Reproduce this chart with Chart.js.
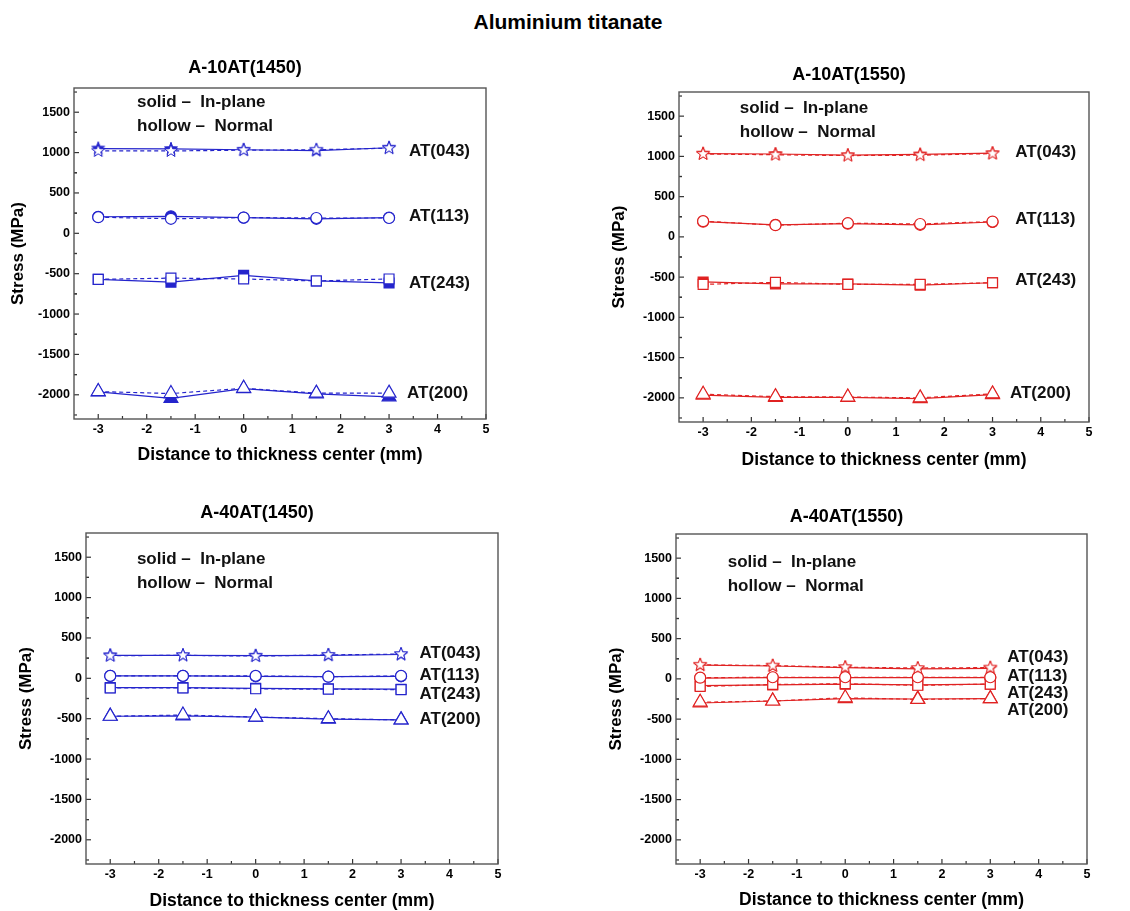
<!DOCTYPE html>
<html>
<head>
<meta charset="utf-8">
<title>Aluminium titanate</title>
<script src="https://cdn.jsdelivr.net/npm/chart.js@4.4.0/dist/chart.umd.min.js"></script>
<style>
  html, body { margin: 0; padding: 0; background: #fff; overflow: hidden; }
  #page { position: relative; width: 1130px; height: 911px; }
  #mainTitle { position: absolute; left: 0; top: 10px; width: 1136px; text-align: center;
               font: bold 21px "Liberation Sans", Arial, sans-serif; line-height: 24px; color: #000; }
  canvas { position: absolute; }
</style>
</head>
<body>
<div id="page">
  <div id="mainTitle">Aluminium titanate</div>
</div>
<script>
// positions through the thickness (mm) and axis ticks
const xPos = [-3, -1.5, 0, 1.5, 3];
const xTicks = [-3, -2, -1, 0, 1, 2, 3, 4, 5];
const yTicks = [-2000, -1500, -1000, -500, 0, 500, 1000, 1500];
const planes = ['AT(043)', 'AT(113)', 'AT(243)', 'AT(200)'];

// A-10AT(1450)  (in-plane = solid, normal = hollow)
const a10_1450_043_in  = [1050, 1045, 1035, 1025, 1060];
const a10_1450_043_nor = [1020, 1020, 1030, 1035, 1055];
const a10_1450_113_in  = [205, 210, 195, 180, 195];
const a10_1450_113_nor = [200, 180, 195, 190, 190];
const a10_1450_243_in  = [-570, -605, -520, -590, -615];
const a10_1450_243_nor = [-570, -555, -565, -590, -565];
const a10_1450_200_in  = [-1965, -2045, -1925, -1990, -2025];
const a10_1450_200_nor = [-1960, -1985, -1920, -1980, -1980];

// A-10AT(1550)
const a10_1550_043_in  = [1035, 1030, 1015, 1025, 1040];
const a10_1550_043_nor = [1030, 1020, 1010, 1015, 1035];
const a10_1550_113_in  = [190, 150, 165, 150, 185];
const a10_1550_113_nor = [195, 145, 170, 160, 190];
const a10_1550_243_in  = [-560, -585, -585, -600, -570];
const a10_1550_243_nor = [-590, -565, -590, -590, -570];
const a10_1550_200_in  = [-1965, -1995, -1995, -2010, -1960];
const a10_1550_200_nor = [-1955, -1985, -1990, -2000, -1950];

// A-40AT(1450)
const a40_1450_043_in  = [285, 285, 280, 285, 295];
const a40_1450_043_nor = [280, 285, 275, 290, 300];
const a40_1450_113_in  = [30, 30, 25, 20, 25];
const a40_1450_113_nor = [30, 30, 30, 20, 30];
const a40_1450_243_in  = [-115, -115, -125, -130, -135];
const a40_1450_243_nor = [-120, -120, -130, -135, -140];
const a40_1450_200_in  = [-470, -465, -480, -505, -515];
const a40_1450_200_nor = [-470, -455, -480, -500, -515];

// A-40AT(1550)
const a40_1550_043_in  = [170, 160, 140, 125, 130];
const a40_1550_043_nor = [175, 165, 145, 135, 140];
const a40_1550_113_in  = [10, 15, 15, 15, 15];
const a40_1550_113_nor = [15, 20, 20, 20, 20];
const a40_1550_243_in  = [-85, -75, -65, -75, -65];
const a40_1550_243_nor = [-95, -70, -60, -80, -65];
const a40_1550_200_in  = [-300, -275, -245, -250, -245];
const a40_1550_200_nor = [-290, -275, -235, -255, -245];

const FONT = '"Liberation Sans", Arial, sans-serif';
const BLUE = '#2424cc';
const RED = '#e02222';
const Y_W = 70, TOP_H = 60, X_H = 52;

// plot box [left, top, width, height] in page pixels, plus text placement
const panels = [
  { title: 'A-10AT(1450)', color: BLUE, plot: [74, 88, 412, 331], titleGap: 20, yTitlePad: 4, xTitlePad: 5.5,
    notes: [-2.2, 1620, 1320], labelX: [3.41, 3.41, 3.41, 3.37], labelY: [1017, 211, -620, -1979],
    inPlane: [a10_1450_043_in, a10_1450_113_in, a10_1450_243_in, a10_1450_200_in],
    normal: [a10_1450_043_nor, a10_1450_113_nor, a10_1450_243_nor, a10_1450_200_nor] },
  { title: 'A-10AT(1550)', color: RED, plot: [679, 92, 410, 330], titleGap: 17, yTitlePad: 0, xTitlePad: 3.5,
    notes: [-2.24, 1595, 1297], labelX: [3.47, 3.47, 3.47, 3.36], labelY: [1049, 223, -542, -1939],
    inPlane: [a10_1550_043_in, a10_1550_113_in, a10_1550_243_in, a10_1550_200_in],
    normal: [a10_1550_043_nor, a10_1550_113_nor, a10_1550_243_nor, a10_1550_200_nor] },
  { title: 'A-40AT(1450)', color: BLUE, plot: [86, 533, 412, 331], titleGap: 20, yTitlePad: 0, xTitlePad: 4.5,
    notes: [-2.45, 1476, 1174], labelX: [3.38, 3.38, 3.38, 3.38], labelY: [306, 37, -198, -508],
    inPlane: [a40_1450_043_in, a40_1450_113_in, a40_1450_243_in, a40_1450_200_in],
    normal: [a40_1450_043_nor, a40_1450_113_nor, a40_1450_243_nor, a40_1450_200_nor] },
  { title: 'A-40AT(1550)', color: RED, plot: [676, 534, 411, 330], titleGap: 17, yTitlePad: 0, xTitlePad: 5.5,
    notes: [-2.43, 1446, 1146], labelX: [3.35, 3.35, 3.35, 3.35], labelY: [266, 29, -175, -387],
    inPlane: [a40_1550_043_in, a40_1550_113_in, a40_1550_243_in, a40_1550_200_in],
    normal: [a40_1550_043_nor, a40_1550_113_nor, a40_1550_243_nor, a40_1550_200_nor] }
];

// five-pointed star marker (Chart.js 'star' is an asterisk)
function makeStar(color, filled) {
  const c = document.createElement('canvas');
  c.width = 16; c.height = 16;
  const ctx = c.getContext('2d');
  ctx.beginPath();
  for (let i = 0; i < 10; i++) {
    const r = i % 2 === 0 ? 6.8 : 2.8;
    const a = -Math.PI / 2 + i * Math.PI / 5;
    const px = 8 + r * Math.cos(a), py = 8 + r * Math.sin(a);
    if (i === 0) ctx.moveTo(px, py); else ctx.lineTo(px, py);
  }
  ctx.closePath();
  ctx.fillStyle = filled ? color : '#fff';
  ctx.fill();
  ctx.lineWidth = 1;
  ctx.strokeStyle = color;
  ctx.stroke();
  return c;
}

// frame, inward ticks, and the text notes inside the plot
const decor = {
  id: 'decor',
  beforeDatasetsDraw(chart) {
    const { ctx, chartArea: a, scales } = chart;
    ctx.save();
    ctx.strokeStyle = '#333';
    ctx.lineWidth = 1.2;
    // minor ticks half way between the majors
    for (let i = 0; i < yTicks.length; i++) {
      const v = yTicks[i];
      const y = scales.y.getPixelForValue(v);
      ctx.beginPath(); ctx.moveTo(a.left, y); ctx.lineTo(a.left + 5, y); ctx.stroke();
      [v - 250, v + 250].forEach(m => {
        if (m > scales.y.min && m < scales.y.max) {
          const ym = scales.y.getPixelForValue(m);
          ctx.beginPath(); ctx.moveTo(a.left, ym); ctx.lineTo(a.left + 3, ym); ctx.stroke();
        }
      });
    }
    for (let i = 0; i < xTicks.length; i++) {
      const v = xTicks[i];
      const x = scales.x.getPixelForValue(v);
      ctx.beginPath(); ctx.moveTo(x, a.bottom); ctx.lineTo(x, a.bottom - 5); ctx.stroke();
      const m = v - 0.5;
      if (m > scales.x.min) {
        const xm = scales.x.getPixelForValue(m);
        ctx.beginPath(); ctx.moveTo(xm, a.bottom); ctx.lineTo(xm, a.bottom - 3); ctx.stroke();
      }
    }
    ctx.strokeStyle = '#555';
    ctx.lineWidth = 1.4;
    ctx.strokeRect(a.left, a.top, a.right - a.left, a.bottom - a.top);
    ctx.restore();
  },
  afterDatasetsDraw(chart, args, opts) {
    const { ctx, scales } = chart;
    ctx.save();
    ctx.fillStyle = '#111';
    ctx.font = 'bold 17px ' + FONT;
    ctx.textBaseline = 'middle';
    ctx.textAlign = 'left';
    const nx = scales.x.getPixelForValue(opts.notes[0]);
    ctx.fillText('solid \u2013  In-plane', nx, scales.y.getPixelForValue(opts.notes[1]));
    ctx.fillText('hollow \u2013  Normal', nx, scales.y.getPixelForValue(opts.notes[2]));
    planes.forEach((name, i) => {
      ctx.fillText(name, scales.x.getPixelForValue(opts.labelX[i]), scales.y.getPixelForValue(opts.labelY[i]));
    });
    ctx.restore();
  }
};

const styles = ['star', 'circle', 'rect', 'triangle'];
const radii = [7, 5.5, 7, 8];
const page = document.getElementById('page');

panels.forEach(p => {
  const [pl, pt, pw, ph] = p.plot;
  const cv = document.createElement('canvas');
  cv.width = pw + 2 * Y_W;
  cv.height = ph + TOP_H + X_H;
  cv.style.left = (pl - Y_W) + 'px';
  cv.style.top = (pt - TOP_H) + 'px';
  page.appendChild(cv);

  const datasets = [];
  styles.forEach((st, i) => {
    datasets.push({
      data: xPos.map((x, k) => ({ x: x, y: p.inPlane[i][k] })),
      borderColor: p.color, borderWidth: 1.2,
      pointStyle: st === 'star' ? makeStar(p.color, true) : st,
      pointRadius: radii[i], pointBackgroundColor: p.color, pointBorderColor: p.color,
      pointBorderWidth: 1.2, fill: false, tension: 0, order: 2
    });
    datasets.push({
      data: xPos.map((x, k) => ({ x: x, y: p.normal[i][k] })),
      borderColor: p.color, borderWidth: 1.2, borderDash: [4, 3],
      pointStyle: st === 'star' ? makeStar(p.color, false) : st,
      pointRadius: radii[i], pointBackgroundColor: '#fff', pointBorderColor: p.color,
      pointBorderWidth: 1.2, fill: false, tension: 0, order: 1
    });
  });

  const tickFont = { family: FONT, size: 12.5, weight: 'bold' };
  new Chart(cv, {
    type: 'line',
    data: { datasets: datasets },
    options: {
      responsive: false,
      animation: false,
      layout: { padding: { left: 0, right: Y_W, top: 0, bottom: 0 } },
      plugins: {
        legend: { display: false },
        tooltip: { enabled: false },
        title: {
          display: true, text: p.title, color: '#000',
          font: { family: FONT, size: 18, weight: 'bold' },
          padding: { top: TOP_H - p.titleGap - 10.8, bottom: p.titleGap - 10.8 }
        },
        decor: { notes: p.notes, labelX: p.labelX, labelY: p.labelY }
      },
      scales: {
        x: {
          type: 'linear', min: -3.5, max: 5,
          afterBuildTicks: s => { s.ticks = xTicks.map(v => ({ value: v })); },
          afterFit: s => { s.height = X_H; },
          grid: { display: false, drawTicks: false },
          border: { display: false },
          ticks: { padding: 3, color: '#000', font: tickFont, autoSkip: false, maxRotation: 0, callback: v => String(v) },
          title: { display: true, text: 'Distance to thickness center (mm)', color: '#000',
                   font: { family: FONT, size: 17.5, weight: 'bold' }, padding: { top: 0, bottom: p.xTitlePad } }
        },
        y: {
          type: 'linear', min: -2300, max: 1800,
          afterBuildTicks: s => { s.ticks = yTicks.map(v => ({ value: v })); },
          afterFit: s => { s.width = Y_W; },
          grid: { display: false, drawTicks: false },
          border: { display: false },
          ticks: { padding: 4, color: '#000', font: tickFont, autoSkip: false, callback: v => String(v) },
          title: { display: true, text: 'Stress (MPa)', color: '#000',
                   font: { family: FONT, size: 17, weight: 'bold' }, padding: { top: p.yTitlePad, bottom: 0 } }
        }
      }
    },
    plugins: [decor]
  });
});
</script>
</body>
</html>
